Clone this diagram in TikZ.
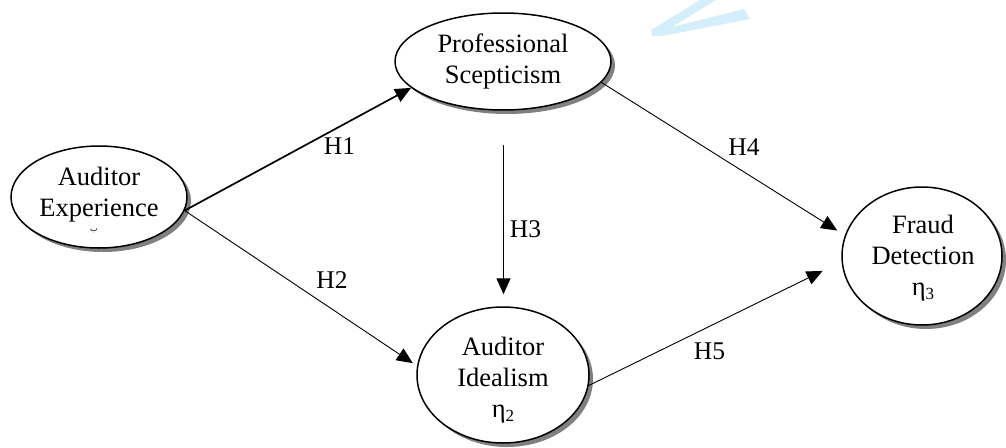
\documentclass[tikz,border=0pt]{standalone}
\usepackage{fontspec}
\setmainfont{Liberation Serif}
\TeXXeTstate=1
\newfontfamily\arabicfont[Script=Arabic]{DejaVu Sans}
\usetikzlibrary{shapes.geometric,arrows.meta,shadows}
\definecolor{wmblue}{HTML}{D5EEFB}
\begin{document}
\begin{tikzpicture}[x=1pt,y=-1pt,
  ell/.style={ellipse, draw, line width=1.5pt, fill=white, inner sep=0pt,
    drop shadow={shadow xshift=4pt, shadow yshift=-4pt, fill=black!50, opacity=1}},
  txt/.style={align=center, font=\fontsize{26.5}{31}\selectfont, inner sep=0pt},
  lab/.style={font=\fontsize{25.5}{30}\selectfont, inner sep=0pt},
  arr/.style={-{Triangle[length=16pt,width=14pt]}, line width=0.9pt},
]
\useasboundingbox (0,0) rectangle (1006,447);
% watermark fragment
\fill[wmblue] (651,30) -- (700,0) -- (716,0) -- (672,27) -- (744,9) -- (750,19) -- (662,36) -- (652,36) -- cycle;
% ellipses
\node[ell, minimum width=176pt, minimum height=102pt] (ae) at (99,197) {};
\node[ell, minimum width=216pt, minimum height=97pt] (ps) at (503,61.5) {};
\node[ell, minimum width=172pt, minimum height=136pt] (ai) at (503,375) {};
\node[ell, minimum width=160pt, minimum height=138pt] (fd) at (922,256) {};
% texts
\node[txt] (aet) at (99,195) {Auditor\\Experience};
\node[inner sep=0pt, font=\arabicfont\fontsize{8}{8}\selectfont] (aem) at (94,231) {\beginR ب\endR};
\node[txt] (pst) at (503,61) {Professional\\Scepticism};
\node[txt] (ait) at (503,380) {Auditor\\Idealism\\η{\fontsize{17}{17}\selectfont\raisebox{-4pt}{2}}};
\node[txt] (fdt) at (923,258) {Fraud\\Detection\\η{\fontsize{17}{17}\selectfont\raisebox{-4pt}{3}}};
% connectors
\coordinate (h3s) at (503.5,145);
\draw[arr, line width=1.7pt] (ae.-9) -- (ps.-164);
\draw[arr, shorten >=5pt] (ae.-9) -- (ai.174);
\draw[arr, line width=1.1pt, shorten >=12pt] (h3s) -- (h3s |- ai.north);
\draw[arr, shorten >=9pt] (ps.-12) -- (fd.165);
\draw[arr, shorten >=21pt] (ai.-7) -- (fd.-176);
% labels
\node[lab] (l1) at (339.5,146) {H1};
\node[lab] (l2) at (332,280) {H2};
\node[lab] (l3) at (525.5,229) {H3};
\node[lab] (l4) at (744,147) {H4};
\node[lab] (l5) at (709.5,351) {H5};
\end{tikzpicture}
\end{document}
